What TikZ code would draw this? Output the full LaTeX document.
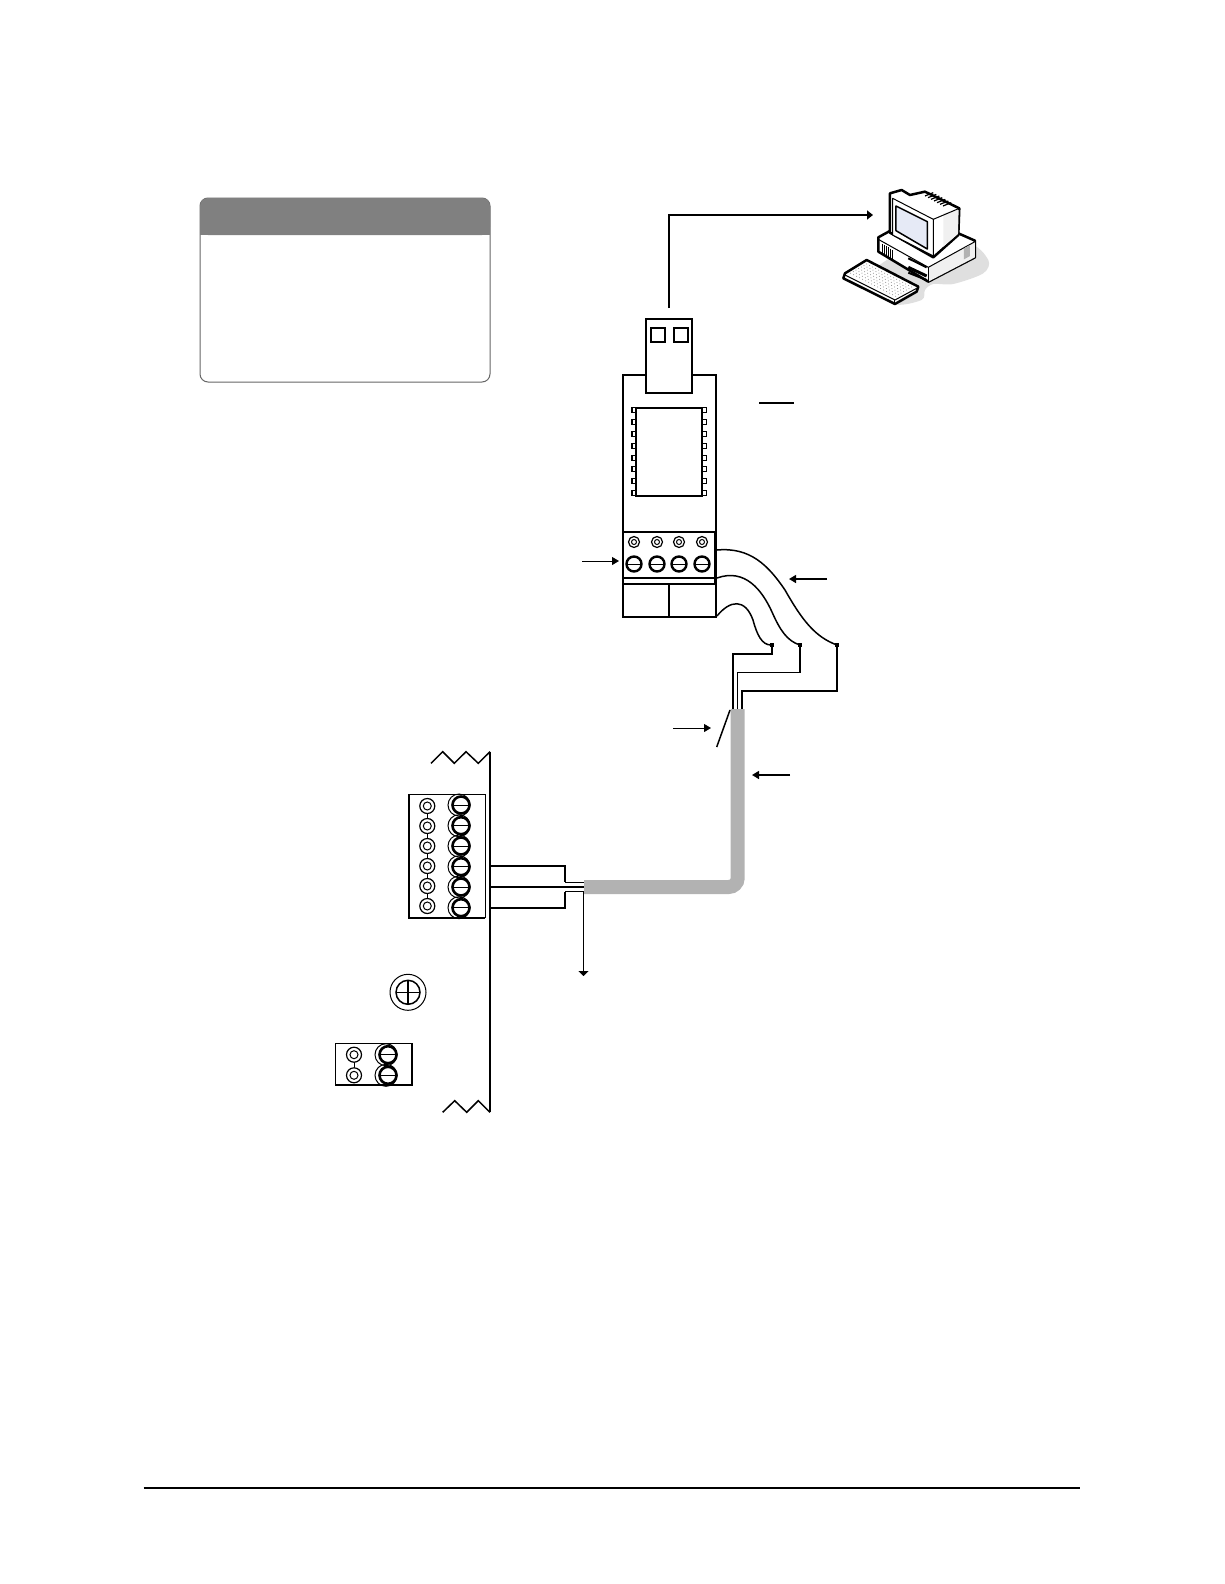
\documentclass[tikz,border=0pt]{standalone}
\usepackage{tikz}
\usetikzlibrary{arrows.meta}

\tikzset{
  thinwire/.style={line width=1pt},
  wire/.style={line width=1.5pt},
  thickwire/.style={line width=2pt},
  pointer/.style={line width=1pt,-{Triangle[length=7pt,width=8pt]}},
  smallscrew/.style={line width=1.2pt,fill=white},
  bigscrew/.style={line width=2.4pt,fill=white},
  cablefill/.style={line width=14pt,color=cablegray,rounded corners=9pt}
}
\definecolor{cablegray}{gray}{.7}
\definecolor{headgray}{gray}{.5}
\definecolor{screenblue}{HTML}{E6EAF6}

\begin{document}
\begin{tikzpicture}[x=1pt,y=-1pt]
  \useasboundingbox (0,0) rectangle (1224,1584);

  % legend box
  \draw[gray!80!black,line width=1pt,rounded corners=8pt] (200,198) rectangle (490,382);
  \fill[headgray,rounded corners=8pt] (200,235) -- (200,198) -- (490,198) -- (490,235) -- cycle;
  \fill[headgray] (200,228) rectangle (490,235);

  % the computer, in its own little grid
  \begin{scope}[shift={(600,180)},x=.3333pt,y=-.3333pt,line join=round]
    \fill[gray!25] plot[smooth cycle,tension=.5] coordinates {(1100,190) (1165,240) (1150,280) (1060,312) (1000,312) (975,330) (965,360) (880,372) (800,300) (900,220)};
    % case
    \draw[line width=2.5pt,fill=white] (835,172) -- (875,150) -- (1075,160) -- (1125,182) -- (1125,232) -- (985,305) -- (835,215) -- cycle;
    \fill[gray!12] (985,262) -- (1125,185) -- (1125,232) -- (985,305) -- cycle;
    \draw[line width=1pt] (835,178) -- (985,262) -- (1125,185);
    \draw[line width=1pt] (985,262) -- (985,305);
    \fill[gray!60] (1092,205) -- (1110,195) -- (1110,228) -- (1092,238) -- cycle;
    \foreach \k in {0,...,5}
      \draw[line width=.9pt] (848+6*\k,192+3.5*\k) -- (848+6*\k,222+3.5*\k);
    \draw[line width=2pt] (925,235) -- (980,262);
    \draw[line width=3pt] (925,262) -- (980,288);
    \draw[line width=2pt] (925,278) -- (980,300);
    % monitor
    \draw[line width=2.5pt,fill=white] (870,40) -- (905,30) -- (930,45) -- (975,35) -- (1078,85) -- (1075,165) -- (1000,232) -- (870,158) -- cycle;
    \fill[gray!12] (1030,100) -- (1076,90) -- (1074,162) -- (1030,200) -- cycle;
    \draw[line width=1pt,fill=white] (878,55) -- (1000,118) -- (1000,228) -- (878,165) -- cycle;
    \draw[line width=1.5pt,fill=screenblue] (888,78) -- (982,125) -- (982,207) -- (888,152) -- cycle;
    \draw[line width=1pt] (1000,118) -- (1078,85);
    \foreach \k in {0,...,6}
      \draw[line width=1.2pt] (975+9*\k,48+5*\k) -- (1000+9*\k,38+5*\k);
    % keyboard
    \draw[line width=2.5pt,fill=white] (800,240) -- (955,320) -- (950,335) -- (885,372) -- (730,295) -- (735,280) -- cycle;
    \foreach \a in {0,1,...,15}
      \foreach \b in {0,1,...,6}
        \fill[gray] (800+9*\a-8*\b,252+4.6*\a+4.6*\b) circle (.5pt);
    \draw[line width=1pt] (735,285) -- (885,360) -- (950,325);
    \draw[line width=1pt] (885,360) -- (885,372);
  \end{scope}

  % arrow from the plug to the computer
  \draw[thickwire,-{Triangle[length=6pt,width=9pt]}] (669,308) -- (669,215) -- (873,215);

  % converter body
  \draw[thickwire] (623,617) -- (623,375) -- (716,375) -- (716,617);
  \draw[line width=2pt] (759,403) -- (794,403);

  % usb plug
  \draw[wire,fill=white] (646,319) rectangle (692,393);
  \draw[wire] (651,328) rectangle (665,342);
  \draw[wire] (674,328) rectangle (688,342);

  % chip with its pins
  \foreach \y in {410,422,434,446,458,469,481,493} {
    \draw[wire] (632,\y-2.5) rectangle (636,\y+2.5);
    \draw[thinwire] (702,\y-2.5) rectangle (706.5,\y+2.5);
  }
  \draw[wire] (636,408) rectangle (702,496);

  % terminal block of the converter
  \draw[thickwire] (623,532) rectangle (715,578);
  \draw[thinwire] (623.5,584) -- (623.5,578) (714,578) -- (714,584);
  \draw[wire] (623,584) rectangle (716,617);
  \draw[wire] (669,584) -- (669,617);
  \foreach \x in {634,657,679,702} {
    \draw[smallscrew] (\x,542) circle (5.5pt);
    \draw[thinwire] (\x,542) circle (2.5pt);
    \draw[bigscrew] (\x,564) circle (7.5pt);
    \draw[thinwire] (\x-7,564) -- (\x+7,564);
  }

  % flying leads
  \draw[wire] (717,550) .. controls (750,547) and (768,565) .. (785,590) .. controls (802,620) and (815,637) .. (837,645);
  \draw[wire] (717,578) .. controls (745,568) and (762,590) .. (772,612) .. controls (780,630) and (787,641) .. (800,645);
  \draw[wire] (717,616) .. controls (730,600) and (745,598) .. (753,620) .. controls (757,635) and (762,645) .. (771,645);
  \foreach \x in {771.5,800,837}
    \fill (\x-2,643) rectangle (\x+2,647);

  % wires into the cable
  \draw[thickwire] (771.5,645) -- (771.5,654) -- (732.5,654) -- (732.5,710);
  \draw[wire] (800,645) -- (800,672.5) -- (737.5,672.5) -- (737.5,710);
  \draw[wire] (837,645) -- (837,691) -- (742,691) -- (742,710);

  % gray cable
  \draw[cablefill] (737.7,709) -- (737.7,887) -- (584,887);

  % shield tail
  \draw[wire] (730,710) -- (716.7,747);

  % pointers
  \draw[pointer] (582,561) -- (619,561);
  \draw[pointer] (673,728) -- (711,728);
  \draw[pointer,line width=1.5pt] (827,579) -- (789,579);
  \draw[pointer,line width=1.5pt] (790,775) -- (752,775);

  % panel edge with its break marks
  \draw[thickwire] (490,752) -- (490,1112);
  \draw[wire] (431,763.3) -- (442.7,751.7) -- (454.3,763.3) -- (466,751.7) -- (478.3,763.3) -- (490,751.7);
  \draw[wire] (442.7,1112.3) -- (454.7,1100.7) -- (466.7,1112.3) -- (478.3,1100.7) -- (490,1112.3);

  % six way block on the panel
  \draw[thinwire] (409,794.5) -- (485.3,794.5) -- (485.3,918);
  \draw[thickwire] (409,794.3) -- (409,918.3) -- (485.3,918.3);
  \draw[thinwire] (427.3,806) -- (427.3,906);
  \foreach \y in {806,826,846,866,886,906} {
    \draw[smallscrew] (427.3,\y) circle (7.5pt);
    \draw[thinwire] (427.3,\y) circle (4pt);
  }
  \foreach \y in {805,825.7,846,866.7,887,907.7}
    \draw[thinwire] (459,\y) circle (11pt);
  \foreach \y in {805,825.7,846,866.7,887,907.7} {
    \draw[bigscrew,line width=2.6pt] (461,\y) circle (8.5pt);
    \draw[thinwire] (452.5,\y) -- (469.5,\y);
  }

  % conductors from the block to the cable
  \draw[thickwire] (490,866) -- (565,866) -- (565,882.3);
  \draw[thickwire] (490,907.7) -- (565,907.7) -- (565,891.7);
  \draw[thickwire] (490,886.7) -- (584,886.7);
  \draw[thinwire] (565,882.3) -- (584,882.3);
  \draw[thinwire] (565,891.7) -- (584,891.7);

  % drain wire going down
  \draw[thinwire,-{Triangle[length=5pt,width=10pt]}] (583.5,891.7) -- (583.5,976);

  % ground screw
  \draw[thinwire] (408,992.3) circle (18pt);
  \draw[wire] (408,992.3) circle (12pt);
  \draw[wire] (396,992.3) -- (420,992.3) (408,980.3) -- (408,1004.3);

  % two way block
  \draw[wire] (335.7,1043.7) rectangle (412,1085);
  \draw[thinwire] (354,1054.7) -- (354,1075.3);
  \foreach \y in {1054.7,1075.3} {
    \draw[smallscrew] (354,\y) circle (7.5pt);
    \draw[thinwire] (354,\y) circle (4pt);
    \draw[thinwire] (386,\y) circle (11pt);
  }
  \foreach \y in {1054.7,1075.3} {
    \draw[bigscrew,line width=2.6pt] (388,\y) circle (8.5pt);
    \draw[thinwire] (379.5,\y) -- (396.5,\y);
  }

  % page rule
  \draw[wire] (143.5,1488) -- (1080,1488);
\end{tikzpicture}
\end{document}
